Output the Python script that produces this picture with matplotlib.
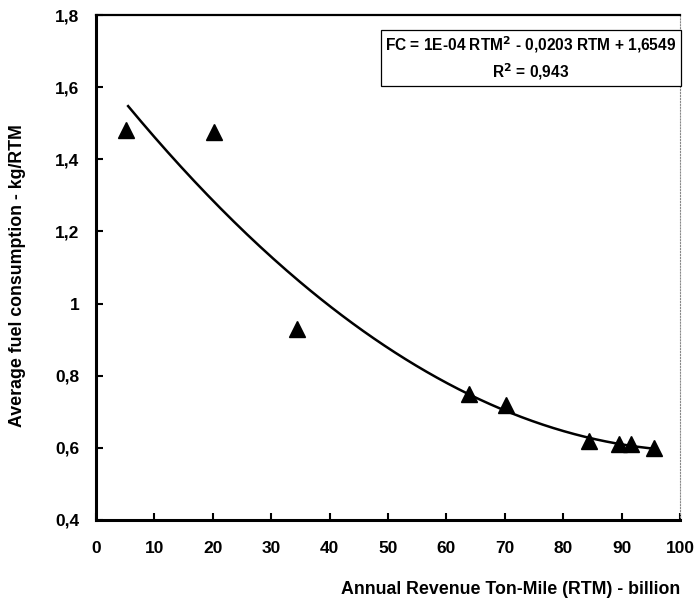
import numpy as np
import matplotlib
matplotlib.use("Agg")
import matplotlib.pyplot as plt
from matplotlib.ticker import FuncFormatter, MultipleLocator

plt.rcParams["font.family"] = ["Liberation Sans", "DejaVu Sans"]
plt.rcParams["font.weight"] = "bold"

# data
rtm = [5.2, 20.2, 34.5, 63.8, 70.2, 84.5, 89.5, 91.6, 95.5]
fuel = [1.48, 1.475, 0.93, 0.75, 0.72, 0.62, 0.61, 0.61, 0.60]
eq_text = "FC = 1E-04 RTM$^{2}$ - 0,0203 RTM + 1,6549\nR$^{2}$ = 0,943"

# second order trendline, like the spreadsheet did
coef = np.polyfit(rtm, fuel, 2)
xs = np.linspace(5.5, 95.5, 200)
ys = np.polyval(coef, xs)

fig = plt.figure(figsize=(6.96, 6.01), dpi=100)
ax = fig.add_axes([96 / 696, 1 - 520 / 601, 584 / 696, 505 / 601])

ax.plot(xs, ys, color="black", lw=1.8)
ax.plot(rtm, fuel, ls="none", marker="^", ms=11, color="black")

ax.set_xlim(0, 100)
ax.set_ylim(0.4, 1.8)
ax.xaxis.set_major_locator(MultipleLocator(10))
ax.yaxis.set_major_locator(MultipleLocator(0.2))
fmt = FuncFormatter(lambda v, p: ("%g" % round(v, 2)).replace(".", ","))
ax.xaxis.set_major_formatter(fmt)
ax.yaxis.set_major_formatter(fmt)
ax.tick_params(direction="in", length=5, width=1.5, labelsize=12.5, pad=12)
ax.tick_params(axis="x", pad=15)

for s in ["left", "bottom"]:
    ax.spines[s].set_linewidth(2.2)
ax.spines["top"].set_linewidth(1.6)
ax.spines["right"].set_linewidth(0.8)
ax.spines["right"].set_color("#888888")
ax.spines["right"].set_linestyle(":")

ax.text((531 - 96) / 584, 0.961, eq_text, transform=ax.transAxes, ha="center", va="top",
        fontsize=11.2, fontweight="bold", linespacing=1.35, multialignment="center",
        bbox=dict(boxstyle="square,pad=0.3", fc="white", ec="black", lw=0.9))

ax.set_ylabel("Average fuel consumption - kg/RTM", fontsize=12.8, fontweight="bold")
ax.yaxis.set_label_coords(-(96 - 26) / 584, 0.485)
fig.text(680 / 696, 1 - 590 / 601, "Annual Revenue Ton-Mile (RTM) - billion",
         ha="right", va="center", fontsize=12.8, fontweight="bold")

fig.savefig("out.png", dpi=100)
